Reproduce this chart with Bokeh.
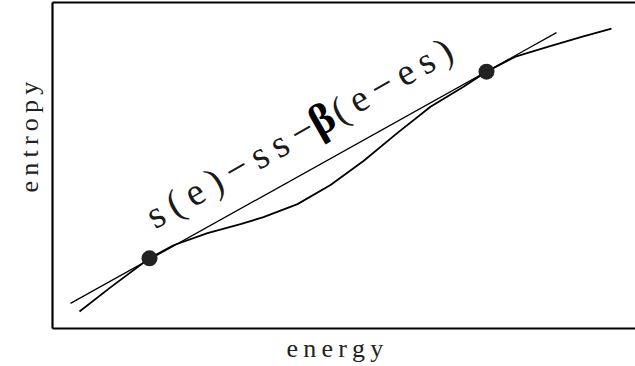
from bokeh.plotting import figure
from bokeh.models import Range1d, LinearAxis, Label, Title, FixedTicker
from bokeh.embed import file_html
from bokeh.resources import INLINE
import math

# ---- data ----
curve_energy = [0.27, 0.58, 0.97, 1.21, 1.55, 1.88, 2.11, 2.45, 2.78, 3.11, 3.45, 3.78, 4.11, 4.34, 4.63, 4.96, 5.30, 5.59]
curve_entropy = [0.17, 0.41, 0.70, 0.83, 0.95, 1.04, 1.11, 1.24, 1.43, 1.67, 1.95, 2.21, 2.41, 2.56, 2.71, 2.81, 2.91, 2.99]

tangent_energy = [0.18, 5.04]
tangent_entropy = [0.25, 2.95]

dot_energy = [0.97, 4.34]
dot_entropy = [0.70, 2.56]

x_label = "energy"
y_label = "entropy"
formula_parts = ["s(e)\u2212ss\u2212", "\u03b2", "(e\u2212es)"]

FONT = "Times New Roman"
THIN = "\u2009"


def spaced(s):
    return THIN.join(list(s))


p = figure(width=635, height=366, output_backend="svg", toolbar_location=None,
           x_range=Range1d(0, 5.83), y_range=Range1d(0, 3.25),
           min_border_left=52, min_border_right=0, min_border_top=2, min_border_bottom=38)
p.grid.visible = False
p.outline_line_color = None
p.background_fill_color = "white"
p.border_fill_color = "white"

top_axis = LinearAxis()
p.add_layout(top_axis, "above")
for ax in p.axis:
    ax.ticker = FixedTicker(ticks=[])
    ax.axis_line_color = "black"
    ax.axis_line_width = 2.2
    ax.major_tick_line_color = None
    ax.minor_tick_line_color = None
    ax.major_tick_out = 0
    ax.major_tick_in = 0
    ax.minor_tick_out = 0
    ax.major_label_standoff = 0

p.add_layout(Title(text=spaced(x_label), align="left", offset=234, standoff=6,
                   text_font=FONT, text_font_size="26px", text_font_style="normal",
                   text_line_height=0.9, text_color="#222222"), "below")
p.add_layout(Title(text=spaced(y_label), align="left", offset=136, standoff=17,
                   text_font=FONT, text_font_size="26px", text_font_style="normal",
                   text_color="#222222"), "left")

p.line(tangent_energy, tangent_entropy, line_color="black", line_width=1.3)
p.line(curve_energy, curve_entropy, line_color="black", line_width=1.8)
p.scatter(dot_energy, dot_entropy, size=16, fill_color="#222222", line_color=None)

ang = math.radians(29.7)
p.add_layout(Label(x=2.59, y=2.03, text=spaced(formula_parts[0]), angle=ang,
                   text_align="right", text_baseline="alphabetic",
                   text_font=FONT, text_font_size="39px", text_color="#1a1a1a"))
p.add_layout(Label(x=2.59, y=2.03, text=formula_parts[1], angle=ang,
                   text_align="left", text_baseline="alphabetic",
                   text_font=FONT, text_font_style="bold", text_font_size="44px",
                   text_color="black"))
p.add_layout(Label(x=2.81, y=2.15, text=spaced(formula_parts[2]), angle=ang,
                   text_align="left", text_baseline="alphabetic",
                   text_font=FONT, text_font_size="38px", text_color="#1a1a1a"))

open("out.html", "w").write(file_html(p, INLINE))
